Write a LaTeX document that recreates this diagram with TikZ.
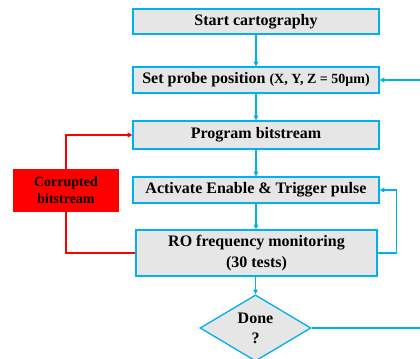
\documentclass[tikz,border=0pt]{standalone}
\usepackage{fontspec}
\setmainfont{Liberation Serif}
\usetikzlibrary{shapes.geometric, arrows.meta}
\definecolor{flowBlue}{RGB}{0,176,240}
\definecolor{boxGray}{RGB}{230,230,230}
\definecolor{alertRed}{RGB}{255,0,0}

\begin{document}
\begin{tikzpicture}[x=0.75pt, y=-0.75pt,
  stepStyle/.style={draw=flowBlue, line width=1pt, fill=boxGray, inner sep=0pt, minimum width=184.5pt, align=center, font=\bfseries\fontsize{12}{15.5}\selectfont},
  testStyle/.style={diamond, draw=flowBlue, line width=1pt, fill=boxGray, inner sep=0pt, minimum width=83.25pt, minimum height=45pt, align=center, font=\bfseries\fontsize{12}{15}\selectfont},
  errorStyle/.style={draw=alertRed, fill=alertRed, inner sep=0pt, minimum width=78.75pt, minimum height=31.5pt, align=center, font=\bfseries\fontsize{10.5}{13}\selectfont},
  flowLine/.style={draw=flowBlue, line width=1pt},
  flowArrow/.style={flowLine, -{Triangle[length=3.5pt, width=3.5pt]}},
  errorArrow/.style={draw=alertRed, line width=1pt}
]
\useasboundingbox (0,0) rectangle (420,358);

\node [stepStyle, minimum height=18.75pt] (start) at (256, 21.5) {Start cartography};
\node [stepStyle, minimum height=19.5pt]  (probe) at (256, 80) {Set probe position {\fontsize{10.5}{12}\selectfont(X, Y, Z = 50μm)}};
\node [stepStyle, minimum height=21pt]    (prog)  at (256, 135) {Program bitstream};
\node [stepStyle, minimum height=19.5pt]  (pulse) at (256, 190) {Activate Enable \& Trigger pulse};
\node [stepStyle, minimum height=34.5pt, minimum width=180.75pt] (ro) at (256.5, 253) {RO frequency monitoring\\(30 tests)};
\node [testStyle] (done) at (255.5, 328) {Done\\?};

\node [errorStyle] (corrupt) at (66, 190) {Corrupted\\bitstream};

\coordinate (loopIn)  at (420, 80);
\coordinate (loopOut) at (420, 328);

\draw [flowArrow] (start) -- (probe);
\draw [flowArrow] (probe) -- (prog);
\draw [flowArrow] (prog) -- (pulse);
\draw [flowArrow] (pulse) -- (ro.north -| pulse.south);
\draw [flowArrow] (ro.south -| done.north) -- (done.north);
\draw [flowArrow] (loopIn) -- (probe.east);
\draw [flowLine]  (done.east) -- (loopOut);
\draw [flowArrow] (ro.east) -- ++(19, 0) |- (pulse.east);

\draw [errorArrow] (ro.west) -| (corrupt.south);
\draw [errorArrow, -{Triangle[length=3.5pt, width=3.5pt]}] (corrupt.north) |- (prog.west);
\end{tikzpicture}
\end{document}
